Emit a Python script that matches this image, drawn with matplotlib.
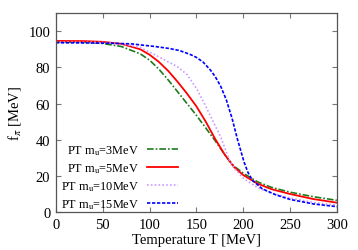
import matplotlib
matplotlib.use("Agg")
import matplotlib.pyplot as plt

plt.rcParams["font.family"] = ["Liberation Serif", "DejaVu Serif"]
plt.rcParams["mathtext.fontset"] = "stix"

# values
t_3 = [0, 30, 50, 70, 90, 100, 110, 120, 130, 140, 150, 160, 170, 180, 185, 190, 200,
       215, 230, 250, 275, 300]
f_3 = [94.0, 93.9, 93.2, 91.5, 87.5, 84, 79, 73, 66.5, 60, 53.5, 46.5, 39.5, 32, 28.5, 25.5, 21.5,
       16.8, 13.7, 11, 8.5, 6.5]

t_5 = [0, 30, 50, 70, 90, 100, 110, 120, 130, 140, 150, 160, 170, 180, 185, 190, 200,
       215, 230, 250, 275, 300]
f_5 = [94.6, 94.5, 94.1, 93, 90, 87, 83, 78, 72, 65.5, 58.5, 50, 40.5, 32, 28.5, 25, 20.5,
       15.8, 12.7, 10, 7.2, 5.2]

t_10 = [0, 50, 70, 90, 100, 110, 120, 130, 140, 150, 160, 167, 176, 185, 190, 200,
        215, 230, 250, 275, 300]
f_10 = [94.0, 93.8, 93, 91, 88.5, 85.8, 83, 80.3, 76, 68.5, 58.5, 51, 41.5, 29, 24.5, 18.8,
        13.6, 10.5, 7.8, 5.3, 3.8]

t_15 = [0, 50, 80, 106, 120, 132, 144, 150, 157, 165, 170, 176, 182, 188, 194, 201, 205, 210,
        220, 235, 250, 275, 300]
f_15 = [93.6, 93.4, 93, 91.5, 90.5, 89.3, 87, 85.5, 83, 78.5, 75, 69.5, 62, 52, 40, 27.5, 22, 17.5,
        13, 9.5, 7, 4.5, 3]

labels = ["PT m$_\\mathrm{u}$=3MeV", "PT m$_\\mathrm{u}$=5MeV",
          "PT m$_\\mathrm{u}$=10MeV", "PT m$_\\mathrm{u}$=15MeV"]

fig = plt.figure(figsize=(3.58, 2.51), dpi=100)
ax = fig.add_axes([0.156, 0.151, 0.785, 0.793])

ax.plot(t_3, f_3, color="#1f7a1f", lw=1.2, ls=(0, (4, 1.2, 1, 1.2)), label=labels[0])
ax.plot(t_5, f_5, color="#ff0000", lw=1.3, ls="-", label=labels[1])
ax.plot(t_10, f_10, color="#cc99ff", lw=1.2, ls=(0, (1, 1.3)), label=labels[2])
ax.plot(t_15, f_15, color="#0000ff", lw=1.2, ls=(0, (2, 1)), label=labels[3])

ax.set_xlim(0, 300)
ax.set_ylim(0, 110)
ax.set_xticks(range(0, 301, 50))
ax.set_yticks(range(0, 101, 20))
ax.tick_params(direction="in", top=True, right=True, length=3.5, width=0.8,
               color="#777777", labelsize=10.5, pad=4)
for s in ax.spines.values():
    s.set_color("#555555")
    s.set_linewidth(0.9)

ax.set_xlabel("Temperature T [MeV]", fontsize=10.5, labelpad=2)
ax.set_ylabel("f$_\\pi$ [MeV]", fontsize=10.5, labelpad=4)

leg = ax.legend(loc="lower right", bbox_to_anchor=(0.465, -0.035), frameon=False,
                markerfirst=False, fontsize=8.8, handlelength=2.5, handletextpad=0.7,
                labelspacing=0.36, borderpad=0.2)
for col in leg._legend_handle_box.get_children():
    col.align = "right"

fig.savefig("out.png", dpi=100)
